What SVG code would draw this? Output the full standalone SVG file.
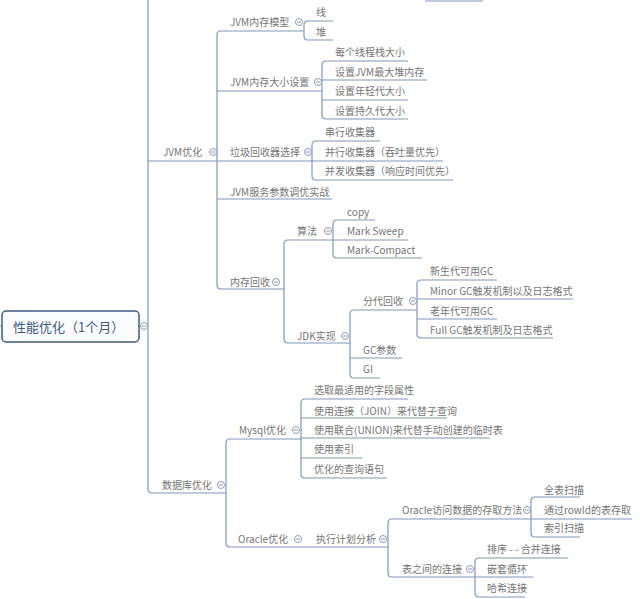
<svg xmlns="http://www.w3.org/2000/svg" width="640" height="599" viewBox="0 0 640 599">
<style>
.ln{fill:none;stroke:#8096ba;stroke-width:1.2}
.t{font-family:"Noto Sans CJK SC","Microsoft YaHei",sans-serif;font-size:10px;fill:#757575}
.root{font-family:"Noto Sans CJK SC","Microsoft YaHei",sans-serif;font-size:13px;fill:#3d5b8a}
.c{fill:#fff;stroke:#8d9bb5;stroke-width:1}
.m{stroke:#8d9bb5;stroke-width:1}
</style>
<defs>
<g id="col"><circle class="c" cx="0" cy="0" r="3.5"/><line class="m" x1="-2" y1="0" x2="2" y2="0"/></g>
</defs>
<rect width="640" height="599" fill="#fff"/>
<g id="connectors">
<path class="ln" d="M425,1 L483,1"/>
<path class="ln" d="M148,-5 L148,489 Q148,493 152,493 L226,493"/>
<path class="ln" d="M0,326 L2,326"/>
<path class="ln" d="M148,161 L217,161"/>
<path class="ln" d="M304,31 L221,31 Q217,31 217,35 L217,285 Q217,289 221,289 L284,289"/>
<path class="ln" d="M217,91 L322,91"/>
<path class="ln" d="M217,161 L312,161"/>
<path class="ln" d="M217,199 L332,199"/>
<path class="ln" d="M333,21 L308,21 Q304,21 304,25 L304,36 Q304,40 308,40 L333,40"/>
<path class="ln" d="M408,61 L326,61 Q322,61 322,65 L322,115 Q322,119 326,119 L408,119"/>
<path class="ln" d="M322,80 L427,80"/>
<path class="ln" d="M322,100 L408,100"/>
<path class="ln" d="M380,141 L316,141 Q312,141 312,145 L312,176 Q312,180 316,180 L453,180"/>
<path class="ln" d="M312,161 L443,161"/>
<path class="ln" d="M333,240 L288,240 Q284,240 284,244 L284,339 Q284,343 288,343 L350,343"/>
<path class="ln" d="M375,220 L337,220 Q333,220 333,224 L333,254 Q333,258 337,258 L422,258"/>
<path class="ln" d="M333,240 L408,240"/>
<path class="ln" d="M417,310 L354,310 Q350,310 350,314 L350,374 Q350,378 354,378 L380,378"/>
<path class="ln" d="M350,358 L402,358"/>
<path class="ln" d="M497,280 L421,280 Q417,280 417,284 L417,334 Q417,338 421,338 L553,338"/>
<path class="ln" d="M417,299 L573,299"/>
<path class="ln" d="M417,319 L497,319"/>
<path class="ln" d="M301,439 L230,439 Q226,439 226,443 L226,543 Q226,547 230,547 L388,547"/>
<path class="ln" d="M408,399 L305,399 Q301,399 301,403 L301,474 Q301,478 305,478 L387,478"/>
<path class="ln" d="M301,418 L447,418"/>
<path class="ln" d="M301,438 L490,438"/>
<path class="ln" d="M301,458 L362,458"/>
<path class="ln" d="M531,519 L392,519 Q388,519 388,523 L388,573 Q388,577 392,577 L475,577"/>
<path class="ln" d="M580,497 L535,497 Q531,497 531,501 L531,533 Q531,537 535,537 L580,537"/>
<path class="ln" d="M531,519 L632,519"/>
<path class="ln" d="M568,558 L479,558 Q475,558 475,562 L475,593 Q475,597 479,597 L525,597"/>
<path class="ln" d="M475,577 L533,577"/>
</g>
<g id="root">
<rect x="2" y="311" width="137" height="31" rx="4" fill="#fbfcfe" stroke="#3f5a86" stroke-width="1.5"/>
<text class="root" x="13" y="331.5">性能优化（1个月）</text>
<use href="#col" x="144" y="326"/>
</g>
<g id="n-jvm"><text class="t" x="163" y="155.5">JVM优化</text><use href="#col" x="213" y="152"/></g>
<g id="n-db"><text class="t" x="162" y="488.5">数据库优化</text><use href="#col" x="221" y="485"/></g>
<g id="n-jmm"><text class="t" x="230" y="25.5">JVM内存模型</text><use href="#col" x="299" y="22"/></g>
<g id="n-xian"><text class="t" x="316" y="15.5">线</text></g>
<g id="n-dui"><text class="t" x="316" y="35.5">堆</text></g>
<g id="n-jms"><text class="t" x="230" y="85.5">JVM内存大小设置</text><use href="#col" x="318" y="82"/></g>
<g id="n-s1"><text class="t" x="335" y="55.5">每个线程栈大小</text></g>
<g id="n-s2"><text class="t" x="335" y="75.5">设置JVM最大堆内存</text></g>
<g id="n-s3"><text class="t" x="335" y="94.5">设置年轻代大小</text></g>
<g id="n-s4"><text class="t" x="335" y="114.5">设置持久代大小</text></g>
<g id="n-gc"><text class="t" x="230" y="155.5">垃圾回收器选择</text><use href="#col" x="308" y="152"/></g>
<g id="n-g1"><text class="t" x="325" y="135.5">串行收集器</text></g>
<g id="n-g2"><text class="t" x="325" y="155.5">并行收集器（吞吐量优先）</text></g>
<g id="n-g3"><text class="t" x="325" y="174.5">并发收集器（响应时间优先）</text></g>
<g id="n-tune"><text class="t" x="230" y="195.5">JVM服务参数调优实战</text></g>
<g id="n-mem"><text class="t" x="230" y="285.5">内存回收</text><use href="#col" x="276" y="282"/></g>
<g id="n-alg"><text class="t" x="297" y="234.5">算法</text><use href="#col" x="328" y="231"/></g>
<g id="n-a1"><text class="t" x="347" y="215.5">copy</text></g>
<g id="n-a2"><text class="t" x="347" y="234.5">Mark Sweep</text></g>
<g id="n-a3"><text class="t" x="347" y="253.5">Mark-Compact</text></g>
<g id="n-jdk"><text class="t" x="297" y="339.5">JDK实现</text><use href="#col" x="345" y="336"/></g>
<g id="n-gen"><text class="t" x="363" y="304.5">分代回收</text><use href="#col" x="413" y="301"/></g>
<g id="n-gcp"><text class="t" x="363" y="353.5">GC参数</text></g>
<g id="n-gi"><text class="t" x="363" y="372.5">GI</text></g>
<g id="n-e1"><text class="t" x="430" y="274.5">新生代可用GC</text></g>
<g id="n-e2"><text class="t" x="430" y="294.5">Minor GC触发机制以及日志格式</text></g>
<g id="n-e3"><text class="t" x="430" y="314.5">老年代可用GC</text></g>
<g id="n-e4"><text class="t" x="430" y="333.5">Full GC触发机制及日志格式</text></g>
<g id="n-mysql"><text class="t" x="239" y="433.5">Mysql优化</text><use href="#col" x="296" y="430"/></g>
<g id="n-m1"><text class="t" x="314" y="393.5">选取最适用的字段属性</text></g>
<g id="n-m2"><text class="t" x="314" y="414.5">使用连接（JOIN）来代替子查询</text></g>
<g id="n-m3"><text class="t" x="314" y="433.5">使用联合(UNION)来代替手动创建的临时表</text></g>
<g id="n-m4"><text class="t" x="314" y="452.5">使用索引</text></g>
<g id="n-m5"><text class="t" x="314" y="472.5">优化的查询语句</text></g>
<g id="n-oracle"><text class="t" x="238" y="542.5">Oracle优化</text><use href="#col" x="298" y="539"/></g>
<g id="n-plan"><text class="t" x="316" y="542.5">执行计划分析</text><use href="#col" x="383" y="539"/></g>
<g id="n-acc"><text class="t" x="402" y="513.5">Oracle访问数据的存取方法</text><use href="#col" x="527" y="510"/></g>
<g id="n-join"><text class="t" x="402" y="572.5">表之间的连接</text><use href="#col" x="470" y="569"/></g>
<g id="n-o1"><text class="t" x="544" y="493.5">全表扫描</text></g>
<g id="n-o2"><text class="t" x="544" y="513.5">通过rowId的表存取</text></g>
<g id="n-o3"><text class="t" x="544" y="531.5">索引扫描</text></g>
<g id="n-j1"><text class="t" x="487" y="552.5">排序 - - 合并连接</text></g>
<g id="n-j2"><text class="t" x="487" y="572.5">嵌套循环</text></g>
<g id="n-j3"><text class="t" x="487" y="591.5">哈希连接</text></g>
</svg>
